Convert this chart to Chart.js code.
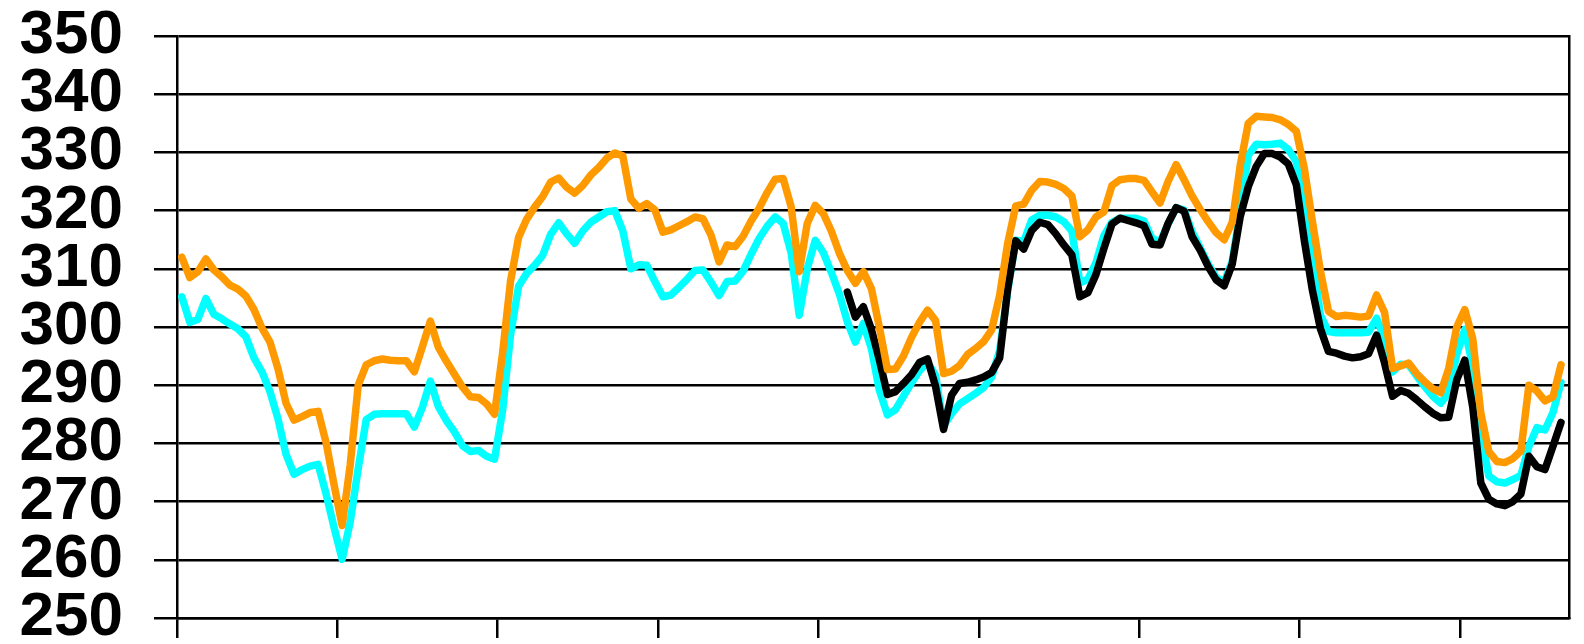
<!DOCTYPE html>
<html><head><meta charset="utf-8">
<script src="https://cdn.jsdelivr.net/npm/chart.js@4"></script>
<style>html,body{margin:0;padding:0;background:#fff}#wrap{width:1584px;height:644px}</style>
</head><body><div id="wrap"><canvas id="c" width="1584" height="644"></canvas></div>
<script>
// ---- data ----
const yTickMin = 250;
const yTickMax = 350;
const yTickStep = 10;
const xTickEvery = 20;          // one x tick mark every 20 periods
const periodCount = 173.6;      // axis length in periods

const cyanValues = [
305.2,300.8,301.3,304.9,302.2,301.4,300.5,299.7,298.3,294.7,
292.3,288.9,284.2,278.1,274.7,275.5,276.1,276.4,271.3,265.5,
260.1,266.5,275.7,284.1,285,285.1,285.1,285.1,285.1,282.8,
286.2,290.7,286.3,283.9,282,279.6,278.6,278.8,277.8,277.3,
285.6,298.7,307,309.2,310.6,312.3,315.9,317.9,316,314.4,
316.5,318,318.9,319.8,320,316.5,310,310.7,310.6,307.8,
305.2,305.5,306.8,308.2,309.7,309.8,307.7,305.4,307.8,307.9,
309.6,312.5,315.2,317.3,318.9,317.8,312.7,302,310,314.9,
312.8,309.4,305.7,300.9,297.4,300.6,296.3,289.1,284.9,285.8,
288.1,290.4,292.5,293.9,291.7,283,285.1,286.8,287.7,288.6,
289.6,291.4,296,306.2,314.9,314.7,318.4,319.2,319.2,318.9,
318.1,316.5,307.6,308.2,311,315.7,318,318.7,318.7,318.7,
318.2,315.2,314.6,317.7,320.5,320.1,316.4,313.6,310.8,308.5,
307.7,311.3,320,329.5,331.4,331.3,331.4,331.6,330.5,328.4,
320,312,302,299.2,299,299,299,299,299.1,301.5,
298,292.3,293.6,293.5,291.6,289.8,288.1,286.9,288.7,295.3,
299.6,293.3,281.6,274.4,273.4,273.2,273.8,274.5,279.5,282.7,
282.3,285.3,290.5
];

const orangeValues = [
312,308.5,309.5,311.7,309.8,308.6,307.2,306.5,305.3,303,
299.8,297.4,292.8,286.9,284,284.6,285.3,285.5,280.1,272.8,
265.9,276.3,290,293.5,294.2,294.5,294.3,294.2,294.2,292.3,
296.6,301,296.5,294.1,291.9,289.7,288,287.9,286.8,285,
295.5,307.9,315.4,318.5,320.6,322.4,324.9,325.6,324,323,
324.3,326.1,327.4,329,329.9,329.4,322,320.4,321.2,320.1,
316.3,316.7,317.4,318.1,318.9,318.6,315.8,311.2,314.1,313.8,
315.6,318.2,320.4,323.1,325.4,325.5,320.6,309.5,317.8,320.9,
319.5,316.5,312.7,309.7,307.5,309.5,306.6,299.9,292.7,292.8,
295,298.2,300.8,302.9,301.1,292,292.4,293.4,295.3,296.3,
297.5,299.5,305.5,314.4,320.8,321.1,323.5,325,324.9,324.5,
323.8,322.5,315.5,316.7,318.9,319.8,324.3,325.3,325.5,325.5,
325.2,323.2,321.3,325,327.9,325.3,322.5,320.2,318.1,316.2,
315,318,327.8,335,336.2,336.1,336,335.6,334.8,333.6,
327.2,318.1,309.6,302.7,301.8,302,301.9,301.7,301.9,305.5,
302.5,292.9,293.3,293.8,292,290.6,289.4,288.7,292.9,300,
303,298,285.2,278.6,276.9,276.7,277.4,278.7,290,289,
287.3,288,293.5
];

const blackStartIndex = 83;
const blackValues = [
306,301.7,303.5,299.6,294.3,288.4,288.9,290.3,291.8,293.9,
294.5,289.8,282.4,288.3,290.3,290.5,290.9,291.4,292.2,294.7,
306.6,314.8,313.4,316.6,318,317.6,316,314.1,312.4,305.2,
305.9,309,313.5,317.7,318.7,318.3,317.9,317.4,314.2,314.1,
317.8,320.5,319.9,315.5,313.2,310.4,308.1,307.1,310.8,319,
324.1,327.6,329.8,329.8,329.2,328,324.4,314.8,306.3,299.7,
295.8,295.5,295,294.7,294.9,295.4,298.6,293.8,288.1,289.1,
288.6,287.5,286.3,285.2,284.4,284.5,290.9,294.3,286.2,273.2,
270.4,269.6,269.3,270,271.3,277.8,276,275.5,279.5,283.6
];

// ---- chart ----
const firstPointOffset = 0.6;
function toPoints(values, start) {
  return values.map((v, i) => ({ x: start + i + firstPointOffset, y: v }));
}
const fontFamily = "'Liberation Sans', Arial, sans-serif";
const lineStyle = { borderWidth: 7.5, borderJoinStyle: 'round', borderCapStyle: 'round', pointRadius: 0, tension: 0, fill: false };

new Chart(document.getElementById('c').getContext('2d'), {
  type: 'line',
  data: {
    datasets: [
      Object.assign({ label: 'cyan', data: toPoints(cyanValues, 0), borderColor: '#00FFFF', order: 2 }, lineStyle),
      Object.assign({ label: 'black', data: toPoints(blackValues, blackStartIndex), borderColor: '#000000', order: 1 }, lineStyle),
      Object.assign({ label: 'orange', data: toPoints(orangeValues, 0), borderColor: '#FF9900', order: 0 }, lineStyle)
    ]
  },
  options: {
    responsive: false,
    animation: false,
    layout: { padding: { top: 36, right: 15, bottom: 0, left: 0 } },
    plugins: { legend: { display: false }, tooltip: { enabled: false } },
    scales: {
      x: {
        type: 'linear', min: 0, max: periodCount,
        ticks: { display: false, stepSize: xTickEvery, includeBounds: false },
        grid: { drawOnChartArea: false, drawTicks: true, tickLength: 20, color: '#000', lineWidth: 2.5 },
        border: { display: true, color: '#000', width: 2.5 },
        afterFit(s) { s.height = 26; }
      },
      y: {
        min: yTickMin, max: yTickMax,
        ticks: { stepSize: yTickStep, padding: 31, color: '#000', autoSkip: false,
                 font: { family: fontFamily, size: 62, weight: 'bold', lineHeight: 1 } },
        grid: { color: '#000', lineWidth: 2.5, tickLength: 23 },
        border: { color: '#000', width: 2.5 },
        afterFit(s) { s.width = 177; s.paddingTop = 0; s.paddingBottom = 0; }
      },
      yRight: {
        position: 'right', display: true,
        ticks: { display: false },
        grid: { display: false },
        border: { display: true, color: '#000', width: 2.5 },
        afterFit(s) { s.width = 0; }
      }
    }
  }
});
</script>
</body></html>
